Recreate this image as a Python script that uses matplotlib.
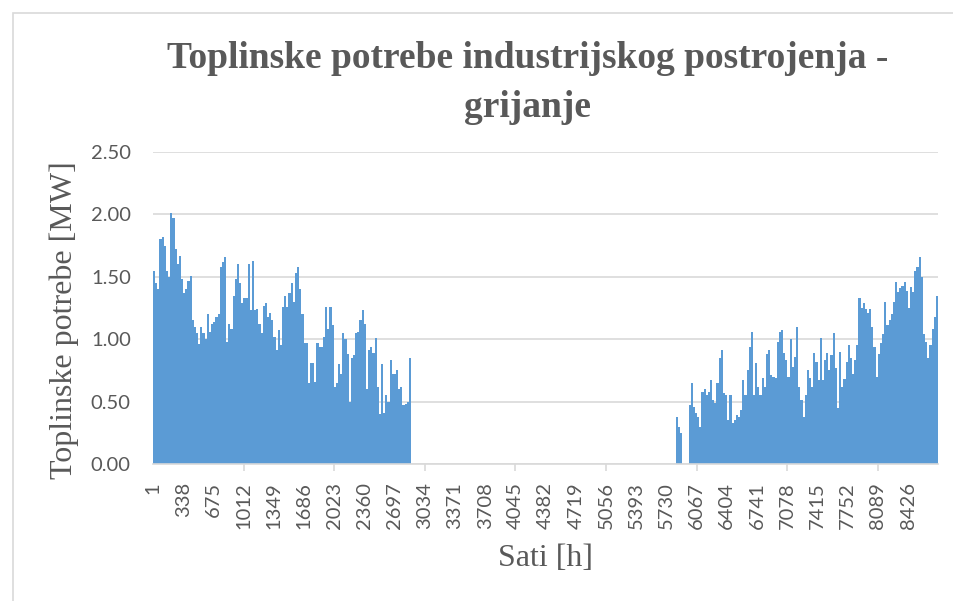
import numpy as np
import matplotlib.pyplot as plt
from matplotlib.patches import Rectangle

# daily peak heat demand [MW]
# heating period 1: days 0..119 (January - April)
season1_first_day = 0
season1 = [1.55, 1.45, 1.40, 1.80, 1.82, 1.75, 1.55, 1.50, 2.01, 1.97,
           1.72, 1.60, 1.67, 1.48, 1.37, 1.40, 1.47, 1.51, 1.15, 1.10,
           1.05, 0.96, 1.10, 1.05, 1.00, 1.20, 1.06, 1.12, 1.14, 1.18,
           1.20, 1.58, 1.62, 1.66, 0.98, 1.12, 1.08, 1.35, 1.48, 1.60,
           1.45, 1.29, 1.33, 1.33, 1.60, 1.23, 1.63, 1.23, 1.24, 1.12,
           1.05, 1.27, 1.29, 1.18, 1.21, 1.15, 1.02, 0.91, 1.07, 0.95,
           1.26, 1.35, 1.26, 1.37, 1.45, 1.30, 1.53, 1.58, 1.40, 1.20,
           0.97, 0.97, 0.65, 0.81, 0.81, 0.66, 0.97, 0.94, 0.94, 1.02,
           1.26, 1.08, 1.26, 1.11, 0.62, 0.65, 0.80, 0.72, 1.05, 1.00,
           0.88, 0.50, 0.85, 0.87, 1.05, 1.06, 1.15, 1.23, 1.12, 0.60,
           0.91, 0.94, 0.89, 1.01, 0.62, 0.40, 0.80, 0.41, 0.55, 0.50,
           0.83, 0.72, 0.72, 0.75, 0.60, 0.62, 0.47, 0.48, 0.50, 0.85]

# heating period 2: days 243..364 (September - December)
season2_first_day = 243
season2 = [0.38, 0.30, 0.25, 0.00, 0.00, 0.00, 0.47, 0.65, 0.46, 0.41,
           0.38, 0.30, 0.58, 0.60, 0.55, 0.58, 0.67, 0.51, 0.49, 0.65,
           0.85, 0.91, 0.57, 0.55, 0.35, 0.55, 0.33, 0.35, 0.39, 0.38,
           0.43, 0.67, 0.55, 0.75, 0.94, 1.06, 0.55, 0.81, 0.62, 0.55,
           0.69, 0.62, 0.88, 0.91, 0.71, 0.70, 0.69, 0.98, 1.06, 1.07,
           0.89, 0.83, 0.70, 1.00, 0.78, 0.86, 1.10, 0.62, 0.51, 0.38,
           0.55, 0.75, 0.69, 0.62, 0.89, 0.82, 0.67, 1.01, 0.67, 0.83,
           0.89, 0.75, 0.87, 1.05, 0.77, 0.45, 0.90, 0.62, 0.68, 0.82,
           0.95, 0.85, 0.72, 0.83, 0.95, 1.33, 1.25, 1.29, 1.24, 1.21,
           1.24, 1.10, 0.94, 0.70, 0.88, 0.97, 1.04, 1.30, 1.11, 1.15,
           1.20, 1.30, 1.46, 1.38, 1.41, 1.43, 1.46, 1.39, 1.25, 1.42,
           1.38, 1.55, 1.58, 1.66, 1.50, 1.04, 0.98, 0.85, 0.95, 1.08,
           1.18, 1.35]

hours_in_year = 8760
tick_hours = list(range(1, 8761, 337))
mark_hours = list(range(1012, 8761, 1011))

title_lines = ["Toplinske potrebe industrijskog postrojenja -", "grijanje"]
xlabel = "Sati [h]"
ylabel = "Toplinske potrebe [MW]"

bar_color = "#5B9BD5"
grid_color = "#D9D9D9"
text_color = "#595959"

W, H = 954, 601
fig = plt.figure(figsize=(W / 100, H / 100), dpi=100)
fig.patches.append(Rectangle((13 / W, -0.1), 1.2, 1 - 13 / H + 0.1,
                             transform=fig.transFigure, fill=False,
                             edgecolor=grid_color, linewidth=1.2))

ax = fig.add_axes([153 / W, 1 - 464 / H, 785 / W, 312 / H])


def draw_season(first_day, values):
    days = first_day + np.arange(len(values))
    edges = np.append(days, days[-1] + 1) * 24 + 0.5
    vals = np.append(values, values[-1])
    ax.fill_between(edges, vals, step="post", color=bar_color,
                    linewidth=0, zorder=2)


draw_season(season1_first_day, season1)
draw_season(season2_first_day, season2)

ax.set_xlim(0.5, hours_in_year + 0.5)
ax.set_ylim(0, 2.5)
yt = np.arange(0, 2.51, 0.5)
ax.set_yticks(yt)
ax.set_yticklabels([f"{v:.2f}" for v in yt])
ax.grid(axis="y", color=grid_color, linewidth=1.2, zorder=0)
ax.set_axisbelow(True)

ax.set_xticks(tick_hours)
ax.set_xticklabels([str(h) for h in tick_hours], rotation=90)
ax.set_xticks(mark_hours, minor=True)
ax.xaxis.remove_overlapping_locs = False
ax.tick_params(axis="x", which="major", length=0, pad=13,
               labelsize=14.5, labelcolor=text_color)
ax.tick_params(axis="x", which="minor", length=5, width=1.2,
               color=grid_color)
ax.tick_params(axis="y", length=0, pad=16, labelsize=14.5,
               labelcolor=text_color)
for lab in ax.get_xticklabels() + ax.get_yticklabels():
    lab.set_family("Lato")

for s in ["top", "right", "left"]:
    ax.spines[s].set_visible(False)
ax.spines["bottom"].set_color(grid_color)
ax.spines["bottom"].set_linewidth(1.2)
ax.spines["bottom"].set_zorder(3)

for line, base in zip(title_lines, [68, 117]):
    fig.text(528 / W, 1 - base / H, line, ha="center", va="baseline",
             fontsize=27, fontweight="bold", color=text_color,
             family="Liberation Serif")
fig.text(545 / W, 1 - 558 / H, xlabel, ha="center", va="center",
         fontsize=23, color=text_color, family="Liberation Serif")
fig.text(64 / W, 1 - 320 / H, ylabel, ha="center", va="center",
         fontsize=23, color=text_color, family="Liberation Serif",
         rotation=90)

fig.savefig("out.png", dpi=100, facecolor="white")
